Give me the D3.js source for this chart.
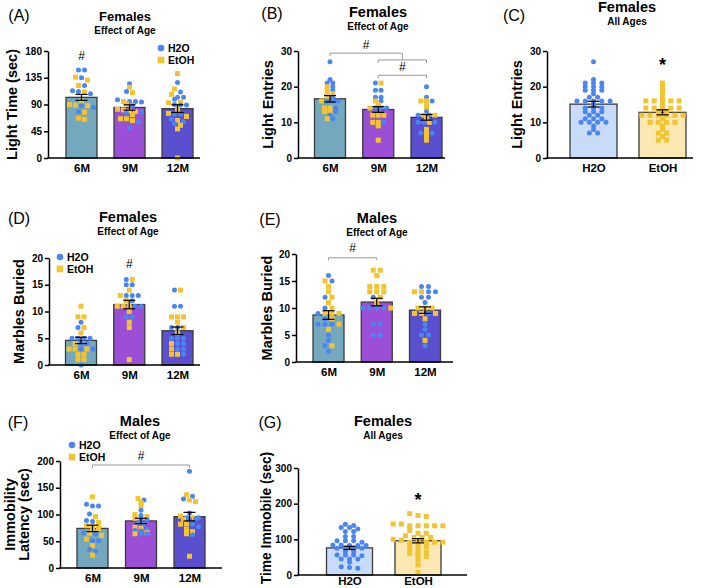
<!DOCTYPE html>
<html><head><meta charset="utf-8">
<script src="https://cdn.jsdelivr.net/npm/d3@7"></script>
<style>
body{margin:0;background:#fff}
text{font-family:"Liberation Sans",Arial,Helvetica,sans-serif}
</style>
</head><body>
<svg id="c" width="709" height="588"></svg>
<script>
// ---------- DATA ----------
const ageCats = ["6M", "9M", "12M"];
const drinkCats = ["H2O", "EtOH"];

// (A) Females, Light Time (sec)
const aTicks = [0, 45, 90, 135, 180];
const aMeans = [102, 85, 83];
const aSem = [5, 4.5, 6.5];
const aH2O = [[148,148,135,122,113,112,108,88,85,78],[125,112,98,95,95,94,88,77,75,61,50],[127,111,102,102,99,90,89,89,74,74,65,61,58]];
const aEtOH = [[136,131,122,111,96,90,89,88,77,67,65],[119,110,95,91,82,81,79,78,73,66,66,63],[142,116,107,94,93,82,75,70,63,55,49,0]];

// (B) Females, Light Entries by age
const bTicks = [0, 10, 20, 30];
const bMeans = [16.6, 13.6, 11.4];
const bSem = [0.9, 0.8, 0.8];
const bH2O = [[27,22,21,21,20,19,17,16,16,16,14,13,12,11],[21,19,19,17,17,16,14,14,14,13,10],[20,17,16,13,12,12,10,10,10,7,7]];
const bEtOH = [[20,19,18,18,17,16,14,14,13,13,11],[21,16,15,14,12,12,12,10,10,9,5],[16,16,15,14,12,12,11,10,8,7,6,5]];

// (C) Females, Light Entries all ages
const cTicks = [0, 10, 20, 30];
const cMeans = [15.1, 12.8];
const cSem = [0.8, 0.7];
const cH2O = [27,22,21,21,21,20,20,20,19,19,19,18,17,17,16,16,16,16,16,15,14,14,14,13,13,13,12,12,11,11,11,10,10,10,10,9,8,7,7];
const cEtOH = [21,20,19,18,17,16,16,16,16,16,15,14,14,14,14,14,13,13,12,12,12,12,12,12,11,10,10,10,10,9,8,7,7,6,5,5];

// (D) Females, Marbles Buried
const dTicks = [0, 5, 10, 15, 20];
const dMeans = [4.6, 11.3, 6.4];
const dSem = [0.6, 0.8, 0.7];
const dH2O = [[8,7,5,5,5,5,4,4,3,3,0],[16,15,15,13,13,13,12,11,11,9,9],[14,11,11,7,7,5,5,5,4,4,3,3,2]];
const dEtOH = [[11,9,9,7,6,4,3,3,3,2,2,1,1],[16,14,13,12,11,11,11,10,8,7,1],[14,9,9,9,8,7,6,4,3,2,2]];

// (E) Males, Marbles Buried
const eTicks = [0, 5, 10, 15, 20];
const eMeans = [8.7, 11.1, 9.6];
const eSem = [0.8, 0.7, 0.6];
const eH2O = [[16,15,12,10,9,8,7,7,7,5,4,3,2],[12,10,10,10,10,7,7,5,5],[14,14,13,13,12,12,11,9,7,6,5,5,3]];
const eEtOH = [[15,14,13,12,11,10,9,9,9,8,7,6,3],[17,17,16,14,14,14,13,13,13,12,11,10],[13,13,10,10,10,9,9,9,8,4]];

// (F) Males, Immobility Latency (sec)
const fTicks = [0, 50, 100, 150, 200];
const fMeans = [74, 88, 96];
const fSem = [6, 5, 8];
const fH2O = [[119,116,116,101,89,87,66,64,51,51,35,31],[127,108,98,90,90,84,82,72,70,69,64,64],[181,134,129,103,94,94,91,91,82,77,62]];
const fEtOH = [[133,96,85,79,77,74,72,65,61,54,42,24],[130,122,116,100,96,93,76,74,66,64],[137,127,124,97,94,91,82,82,72,68,64,22]];

// (G) Females, Time Immobile (sec) all ages
const gTicks = [0, 100, 200, 300];
const gMeans = [76, 96];
const gSem = [4.5, 6];
const gH2O = [142,139,133,133,129,122,122,108,108,96,96,96,92,84,84,83,83,83,75,75,75,75,66,66,56,56,56,54,45,45,45,36,23,21,19];
const gEtOH = [172,167,164,143,143,138,138,138,138,138,125,117,117,110,105,105,105,100,98,92,92,92,92,92,85,80,80,72,66,64,60,55,52,42,28,7];

// ---------- STYLE ----------
const ageColors = ["#74a8be", "#9b4fd6", "#5a50cf"];
const drinkColors = ["#c8dbf9", "#fbe8b2"];
const blue = "#4a86f3", yellow = "#f4c430";
const FONT = '"Liberation Sans",Arial,Helvetica,sans-serif';

const svg = d3.select("#c");

function mergePts(h, e) {
  const pts = [];
  (h || []).forEach((v, i) => pts.push({v, t: 0, k: i}));
  (e || []).forEach((v, i) => pts.push({v, t: 1, k: i + 0.5}));
  pts.sort((a, b) => b.v - a.v || a.k - b.k);
  return pts;
}

function swarm(pts, y, sp, tol) {
  const rows = [];
  pts.forEach(p => {
    p.py = y(p.v);
    const last = rows[rows.length - 1];
    if (last && Math.abs(p.py - last.y0) <= tol) last.pts.push(p);
    else rows.push({y0: p.py, pts: [p]});
  });
  rows.forEach(r => {
    const n = r.pts.length;
    r.pts.forEach((p, i) => { p.dx = (i - (n - 1) / 2) * sp; });
  });
  return pts;
}

function drawPanel(c) {
  const g = svg.append("g");
  const top = c.ticks[c.ticks.length - 1];
  const y = d3.scaleLinear().domain([0, top]).range([c.y0, c.y1]);
  const x = d3.scalePoint().domain(c.cats).range(c.xr);

  // bars
  c.cats.forEach((cat, i) => {
    g.append("rect")
      .attr("x", x(cat) - c.bw / 2).attr("width", c.bw)
      .attr("y", y(c.means[i])).attr("height", y(0) - y(c.means[i]))
      .attr("fill", c.colors[i]).attr("stroke", "#3b3b3b").attr("stroke-width", 1.3);
  });

  // points
  c.cats.forEach((cat, i) => {
    const pts = swarm(mergePts(c.h2o[i], c.etoh[i]), y, c.sp, c.tol);
    pts.forEach(p => {
      const cx = x(cat) + p.dx;
      if (p.t === 0) {
        g.append("circle").attr("cx", cx).attr("cy", p.py).attr("r", 2.5).attr("fill", blue);
      } else {
        g.append("rect").attr("x", cx - 2.5).attr("y", p.py - 2.5).attr("width", 5).attr("height", 5).attr("fill", yellow);
      }
    });
  });

  // error bars
  c.cats.forEach((cat, i) => {
    const cx = x(cat), hi = y(c.means[i] + c.sem[i]), lo = y(c.means[i] - c.sem[i]);
    g.append("line").attr("x1", cx).attr("x2", cx).attr("y1", hi).attr("y2", lo).attr("stroke", "#000").attr("stroke-width", 1.2);
    [hi, lo].forEach(yy => g.append("line").attr("x1", cx - 6).attr("x2", cx + 6).attr("y1", yy).attr("y2", yy).attr("stroke", "#000").attr("stroke-width", 1.2));
  });

  // y axis
  const ya = g.append("g").attr("transform", `translate(${c.ax},0)`)
    .call(d3.axisLeft(y).tickValues(c.ticks).tickSize(4).tickSizeOuter(0).tickPadding(2));
  ya.select(".domain").attr("stroke", "#000").attr("stroke-width", 1.5);
  ya.selectAll(".tick line").attr("stroke", "#000").attr("stroke-width", 1.5);
  ya.selectAll(".tick text").attr("font-family", FONT).attr("font-weight", "bold").attr("font-size", 10).attr("fill", "#000");

  // x axis line
  g.append("line").attr("x1", c.ax - 0.75).attr("x2", c.xEnd).attr("y1", c.y0).attr("y2", c.y0).attr("stroke", "#000").attr("stroke-width", 1.5);
  const xa = g.append("g").attr("transform", `translate(0,${c.y0})`)
    .call(d3.axisBottom(x).tickSize(0).tickPadding(c.xpad == null ? 6 : c.xpad));
  xa.select(".domain").remove();
  xa.selectAll(".tick text").attr("font-family", FONT).attr("font-weight", "bold").attr("font-size", 11.5).attr("fill", "#000");

  // y label
  const yl = g.append("text").attr("font-family", FONT).attr("font-weight", "bold").attr("font-size", c.ylSize || 14.5)
    .attr("text-anchor", "middle").attr("fill", "#000")
    .attr("transform", `translate(0,${(c.y0 + c.y1) / 2 + c.ylOff}) rotate(-90)`);
  c.ylab.forEach((t, j) => yl.append("tspan").attr("x", 0).attr("y", c.ylx[j]).attr("dominant-baseline", "central").text(t));

  // titles
  g.append("text").attr("x", c.tx).attr("y", c.ty).attr("text-anchor", "middle").attr("dominant-baseline", "central")
    .attr("font-family", FONT).attr("font-weight", "bold").attr("font-size", c.tsize || 14.5).text(c.title);
  g.append("text").attr("x", c.tx).attr("y", c.ty + 14).attr("text-anchor", "middle").attr("dominant-baseline", "central")
    .attr("font-family", FONT).attr("font-weight", "bold").attr("font-size", 10).text(c.sub);
  g.append("text").attr("x", c.lx).attr("y", c.ly).attr("text-anchor", "middle").attr("dominant-baseline", "central")
    .attr("font-family", FONT).attr("font-size", 16).text(c.letter);

  // legend
  if (c.leg) {
    g.append("circle").attr("cx", c.leg[0]).attr("cy", c.leg[1]).attr("r", 3.3).attr("fill", blue);
    g.append("rect").attr("x", c.leg[0] - 3.3).attr("y", c.leg[1] + 12 - 3.3).attr("width", 6.6).attr("height", 6.6).attr("fill", yellow);
    ["H2O", "EtOH"].forEach((t, j) => g.append("text").attr("x", c.leg[0] + 7).attr("y", c.leg[1] + 12 * j)
      .attr("dominant-baseline", "central").attr("font-family", FONT).attr("font-weight", "bold").attr("font-size", 10.5).text(t));
  }

  // annotations
  (c.brackets || []).forEach(b => {
    const x1 = b.x1(x), x2 = b.x2(x);
    g.append("path").attr("d", `M${x1},${y(b.v) + b.d1}V${y(b.v)}H${x2}V${y(b.v) + b.d2}`)
      .attr("fill", "none").attr("stroke", "#999").attr("stroke-width", 1);
  });
  (c.marks || []).forEach(m => {
    g.append("text").attr("x", m.x(x)).attr("y", y(m.v)).attr("text-anchor", "middle").attr("dominant-baseline", "central")
      .attr("font-family", FONT).attr("font-weight", m.s === "*" ? "bold" : "normal").attr("font-size", m.s === "*" ? 18 : 12).text(m.s);
  });
}

const mid = (a, b) => x => (x(a) + x(b)) / 2;
const at = a => x => x(a);

drawPanel({letter: "(A)", lx: 19, ly: 15, title: "Females", sub: "Effect of Age", tx: 125, ty: 16, tsize: 13,
  cats: ageCats, colors: ageColors, ticks: aTicks, means: aMeans, sem: aSem, h2o: aH2O, etoh: aEtOH,
  ax: 48, y0: 158, y1: 51, xr: [81.5, 177.5], bw: 31, xEnd: 200, sp: 6, tol: 3,
  ylab: ["Light Time (sec)"], ylx: [12], ylOff: 0, leg: [161, 48],
  marks: [{s: "#", x: at("6M"), v: 171}]});

drawPanel({letter: "(B)", lx: 272, ly: 13, title: "Females", sub: "Effect of Age", tx: 378, ty: 12,
  cats: ageCats, colors: ageColors, ticks: bTicks, means: bMeans, sem: bSem, h2o: bH2O, etoh: bEtOH,
  ax: 298, y0: 158, y1: 51, xr: [330, 426.5], bw: 31, xEnd: 445, sp: 5.6, tol: 1,
  ylab: ["Light Entries"], ylx: [267.5], ylOff: 0,
  brackets: [{x1: at("6M"), x2: mid("9M", "12M"), v: 29.4, d1: 3, d2: 7},
             {x1: at("9M"), x2: at("12M"), v: 27.5, d1: 3, d2: 3},
             {x1: at("9M"), x2: at("12M"), v: 23.2, d1: 3, d2: 3}],
  marks: [{s: "#", x: x => (x("6M") + (x("9M") + x("12M")) / 2) / 2, v: 31.8}, {s: "#", x: mid("9M", "12M"), v: 25.5}]});

drawPanel({letter: "(C)", lx: 514, ly: 15, title: "Females", sub: "All Ages", tx: 627, ty: 7,
  cats: drinkCats, colors: drinkColors, ticks: cTicks, means: cMeans, sem: cSem, h2o: [cH2O, null], etoh: [null, cEtOH],
  ax: 547, y0: 158, y1: 51, xr: [593.5, 662.5], bw: 47, xEnd: 693, sp: 8.3, tol: 1,
  ylab: ["Light Entries"], ylx: [517], ylOff: 0,
  marks: [{s: "*", x: at("EtOH"), v: 26.2}]});

drawPanel({letter: "(D)", lx: 19, ly: 218, title: "Females", sub: "Effect of Age", tx: 128, ty: 217,
  cats: ageCats, colors: ageColors, ticks: dTicks, means: dMeans, sem: dSem, h2o: dH2O, etoh: dEtOH,
  ax: 49, y0: 365, y1: 258, xr: [81, 177.5], bw: 31, xEnd: 200, sp: 6, tol: 1,
  ylab: ["Marbles Buried"], ylx: [18.5], ylOff: 0, leg: [60, 257],
  marks: [{s: "#", x: at("9M"), v: 18.9}]});

drawPanel({letter: "(E)", lx: 270, ly: 219, title: "Males", sub: "Effect of Age", tx: 377, ty: 218,
  cats: ageCats, colors: ageColors, ticks: eTicks, means: eMeans, sem: eSem, h2o: eH2O, etoh: eEtOH,
  ax: 296, y0: 362, y1: 254, xr: [328.5, 425], bw: 31, xEnd: 453, sp: 7, tol: 1,
  ylab: ["Marbles Buried"], ylx: [267], ylOff: 0,
  brackets: [{x1: at("6M"), x2: at("9M"), v: 19.3, d1: 2.5, d2: 2.5}],
  marks: [{s: "#", x: mid("6M", "9M"), v: 21.1}]});

drawPanel({letter: "(F)", lx: 18, ly: 422, title: "Males", sub: "Effect of Age", tx: 140, ty: 421,
  cats: ageCats, colors: ageColors, ticks: fTicks, means: fMeans, sem: fSem, h2o: fH2O, etoh: fEtOH,
  ax: 60, y0: 568, y1: 461, xr: [92.5, 189.5], bw: 31, xEnd: 222, sp: 6, tol: 3,
  ylab: ["Immobility", "Latency (sec)"], ylx: [9.5, 24], ylOff: 0, leg: [72, 445],
  brackets: [{x1: at("6M"), x2: at("12M"), v: 192.5, d1: 3, d2: 3}],
  marks: [{s: "#", x: at("9M"), v: 209}]});

drawPanel({letter: "(G)", lx: 270, ly: 422, title: "Females", sub: "All Ages", tx: 383, ty: 421,
  cats: drinkCats, colors: drinkColors, ticks: gTicks, means: gMeans, sem: gSem, h2o: [gH2O, null], etoh: [null, gEtOH],
  ax: 298, y0: 575, y1: 468, xr: [349.5, 418], bw: 46, xEnd: 467, sp: 8.3, tol: 3, xpad: 2,
  ylab: ["Time Immobile (sec)"], ylx: [266.5], ylOff: -3.5, ylSize: 13.8,
  marks: [{s: "*", x: at("EtOH"), v: 211}]});
</script>
</body></html>
